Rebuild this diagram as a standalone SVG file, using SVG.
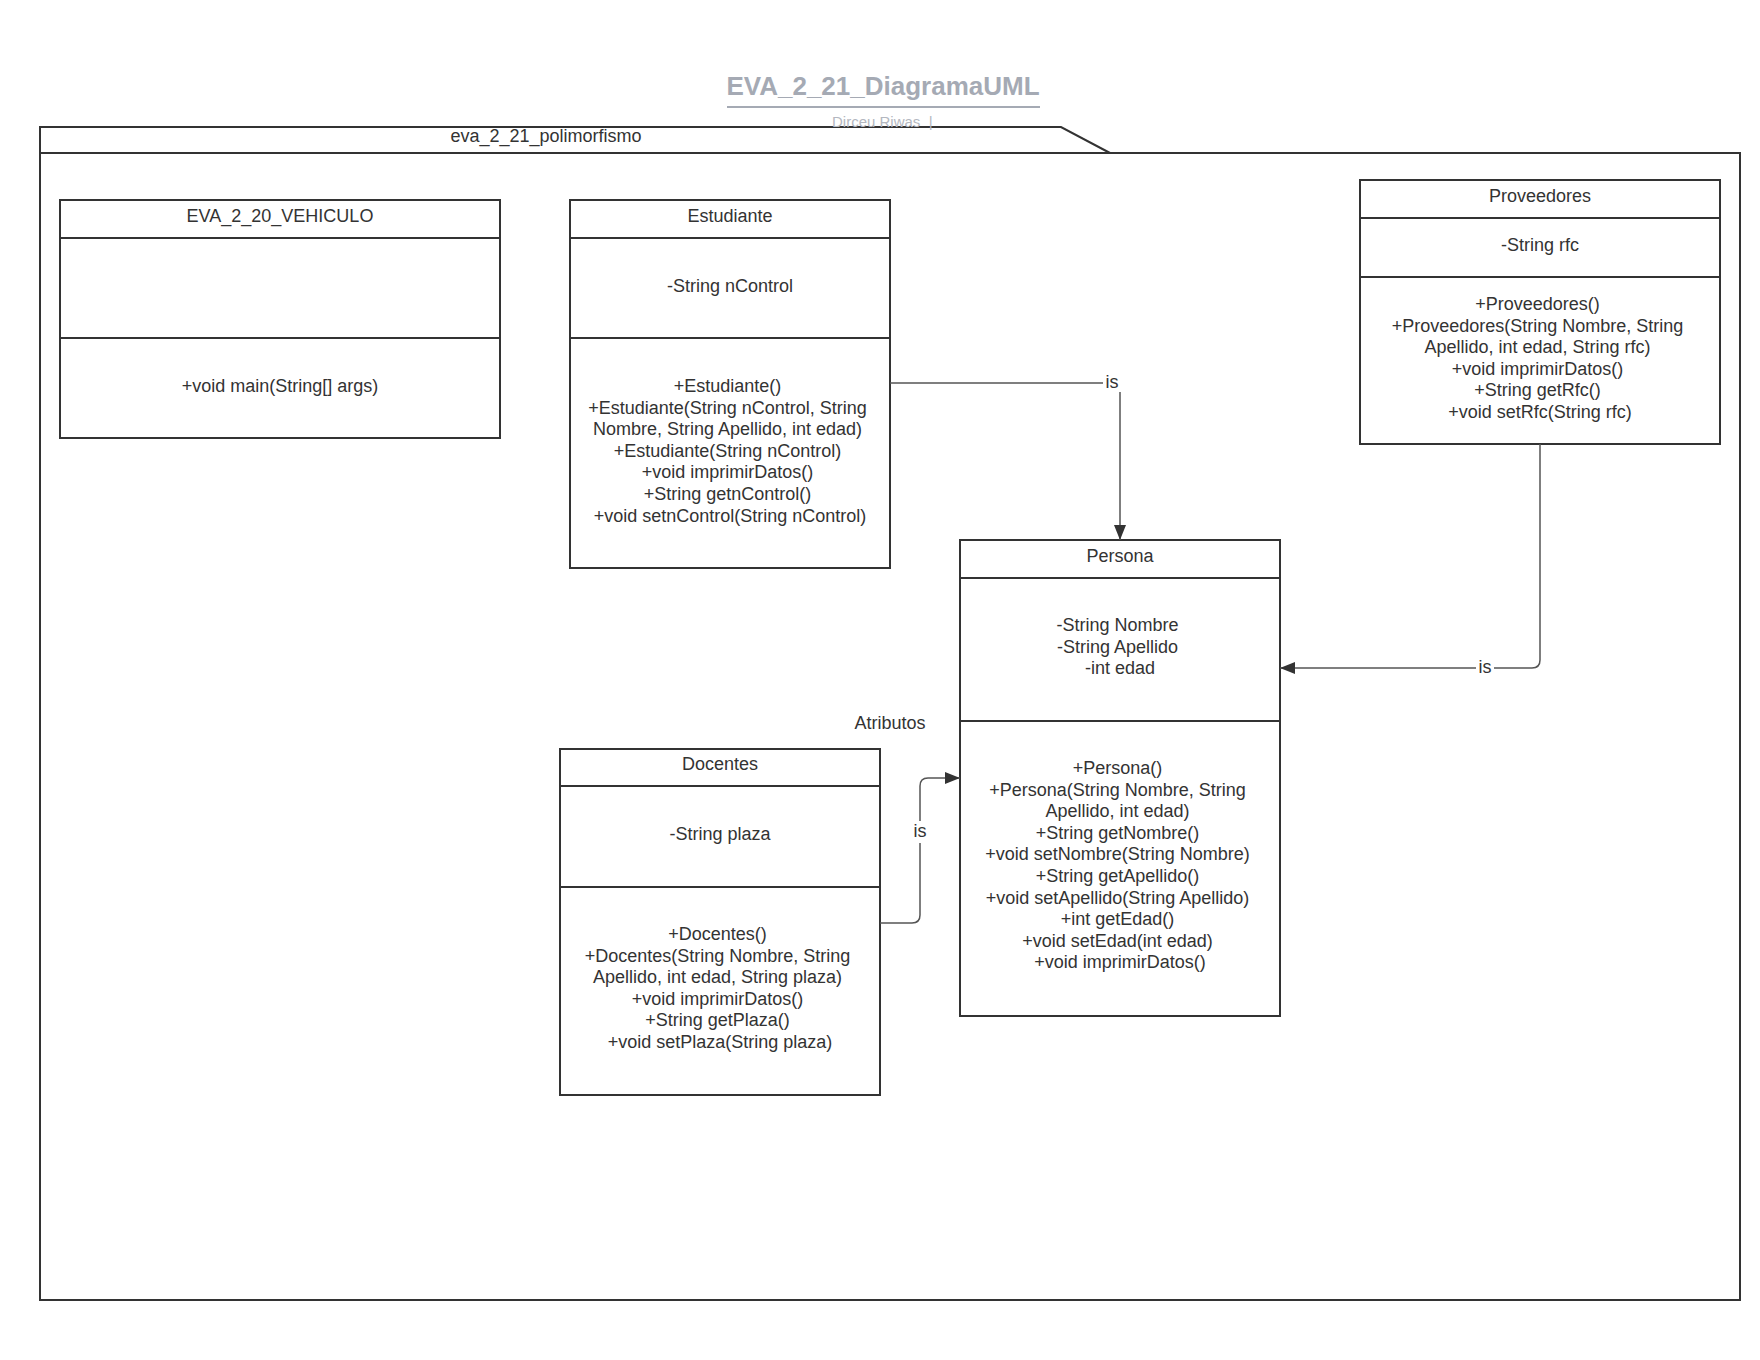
<svg xmlns="http://www.w3.org/2000/svg" width="1760" height="1360" viewBox="0 0 1760 1360">
  <style>
    .box { fill: #ffffff; stroke: #333333; stroke-width: 2; }
    .sep { stroke: #333333; stroke-width: 2; fill: none; }
    .txt { font-family: "Liberation Sans", Arial, sans-serif; font-size: 18px; fill: #333333; text-anchor: middle; }
    .edge { fill: none; stroke: #555555; stroke-width: 1.5; }
    .lbl { font-family: "Liberation Sans", Arial, sans-serif; font-size: 18px; fill: #333333; text-anchor: middle; }
  </style>
  <defs>
    <marker id="arrow" markerUnits="userSpaceOnUse" markerWidth="16" markerHeight="12" refX="15" refY="6" orient="auto">
      <path d="M0,0 L15,6 L0,12 z" fill="#333333"/>
    </marker>
  </defs>

  <rect width="1760" height="1360" fill="#ffffff"/>

  <!-- document title -->
  <g id="title">
    <text x="883" y="95" text-anchor="middle" font-family="Liberation Sans, Arial, sans-serif" font-size="26" font-weight="bold" fill="#a5aab4">EVA_2_21_DiagramaUML</text>
    <line x1="727" y1="107" x2="1040" y2="107" stroke="#a5aab4" stroke-width="2"/>
  </g>

  <!-- package frame -->
  <g id="package">
    <path d="M40,153 V127 H1061 L1110,153 Z" class="box"/>
    <rect x="40" y="153" width="1700" height="1147" class="box"/>
    <text x="546" y="142" class="txt">eva_2_21_polimorfismo</text>
  </g>

  <text x="832" y="127" font-family="Liberation Sans, Arial, sans-serif" font-size="15" fill="#b3b7c0" style="white-space:pre">Dirceu Riwas  |</text>

  <!-- EVA_2_20_VEHICULO -->
  <g id="vehiculo">
    <rect x="60" y="200" width="440" height="238" class="box"/>
    <line x1="60" y1="238" x2="500" y2="238" class="sep"/>
    <line x1="60" y1="338" x2="500" y2="338" class="sep"/>
    <text x="280" y="222" class="txt">EVA_2_20_VEHICULO</text>
    <text x="280" y="392" class="txt">+void main(String[] args)</text>
  </g>

  <!-- Estudiante -->
  <g id="estudiante">
    <rect x="570" y="200" width="320" height="368" class="box"/>
    <line x1="570" y1="238" x2="890" y2="238" class="sep"/>
    <line x1="570" y1="338" x2="890" y2="338" class="sep"/>
    <text x="730" y="222" class="txt">Estudiante</text>
    <text x="730" y="292" class="txt">-String nControl</text>
    <text x="730" y="392" class="txt">
      <tspan x="730">+Estudiante()</tspan>
      <tspan x="730" dy="21.6">+Estudiante(String nControl, String</tspan>
      <tspan x="730" dy="21.6">Nombre, String Apellido, int edad)</tspan>
      <tspan x="730" dy="21.6">+Estudiante(String nControl)</tspan>
      <tspan x="730" dy="21.6">+void imprimirDatos()</tspan>
      <tspan x="730" dy="21.6">+String getnControl()</tspan>
      <tspan x="730" dy="21.6">+void setnControl(String nControl)</tspan>
    </text>
  </g>

  <!-- Proveedores -->
  <g id="proveedores">
    <rect x="1360" y="180" width="360" height="264" class="box"/>
    <line x1="1360" y1="218" x2="1720" y2="218" class="sep"/>
    <line x1="1360" y1="277" x2="1720" y2="277" class="sep"/>
    <text x="1540" y="202" class="txt">Proveedores</text>
    <text x="1540" y="251" class="txt">-String rfc</text>
    <text x="1540" y="310" class="txt">
      <tspan x="1540">+Proveedores()</tspan>
      <tspan x="1540" dy="21.6">+Proveedores(String Nombre, String</tspan>
      <tspan x="1540" dy="21.6">Apellido, int edad, String rfc)</tspan>
      <tspan x="1540" dy="21.6">+void imprimirDatos()</tspan>
      <tspan x="1540" dy="21.6">+String getRfc()</tspan>
      <tspan x="1540" dy="21.6">+void setRfc(String rfc)</tspan>
    </text>
  </g>

  <!-- Persona -->
  <g id="persona">
    <rect x="960" y="540" width="320" height="476" class="box"/>
    <line x1="960" y1="578" x2="1280" y2="578" class="sep"/>
    <line x1="960" y1="721" x2="1280" y2="721" class="sep"/>
    <text x="1120" y="562" class="txt">Persona</text>
    <text x="1120" y="631" class="txt">
      <tspan x="1120">-String Nombre</tspan>
      <tspan x="1120" dy="21.6">-String Apellido</tspan>
      <tspan x="1120" dy="21.6">-int edad</tspan>
    </text>
    <text x="1120" y="774" class="txt">
      <tspan x="1120">+Persona()</tspan>
      <tspan x="1120" dy="21.6">+Persona(String Nombre, String</tspan>
      <tspan x="1120" dy="21.6">Apellido, int edad)</tspan>
      <tspan x="1120" dy="21.6">+String getNombre()</tspan>
      <tspan x="1120" dy="21.6">+void setNombre(String Nombre)</tspan>
      <tspan x="1120" dy="21.6">+String getApellido()</tspan>
      <tspan x="1120" dy="21.6">+void setApellido(String Apellido)</tspan>
      <tspan x="1120" dy="21.6">+int getEdad()</tspan>
      <tspan x="1120" dy="21.6">+void setEdad(int edad)</tspan>
      <tspan x="1120" dy="21.6">+void imprimirDatos()</tspan>
    </text>
  </g>

  <!-- Docentes -->
  <g id="docentes">
    <rect x="560" y="749" width="320" height="346" class="box"/>
    <line x1="560" y1="786" x2="880" y2="786" class="sep"/>
    <line x1="560" y1="887" x2="880" y2="887" class="sep"/>
    <text x="720" y="770" class="txt">Docentes</text>
    <text x="720" y="840" class="txt">-String plaza</text>
    <text x="720" y="940" class="txt">
      <tspan x="720">+Docentes()</tspan>
      <tspan x="720" dy="21.6">+Docentes(String Nombre, String</tspan>
      <tspan x="720" dy="21.6">Apellido, int edad, String plaza)</tspan>
      <tspan x="720" dy="21.6">+void imprimirDatos()</tspan>
      <tspan x="720" dy="21.6">+String getPlaza()</tspan>
      <tspan x="720" dy="21.6">+void setPlaza(String plaza)</tspan>
    </text>
  </g>

  <!-- free text -->
  <g id="atributos">
    <text x="890" y="729" class="txt">Atributos</text>
  </g>

  <!-- generalisation connectors -->
  <g id="connectors">
    <path d="M890,383 H1112 Q1120,383 1120,391 V540" class="edge" marker-end="url(#arrow)"/>
    <rect x="1103" y="370" width="18" height="22" fill="#ffffff"/>
    <text x="1112" y="388" class="lbl">is</text>

    <path d="M1540,444 V660 Q1540,668 1532,668 H1280" class="edge" marker-end="url(#arrow)"/>
    <rect x="1476" y="657" width="18" height="22" fill="#ffffff"/>
    <text x="1485" y="673" class="lbl">is</text>

    <path d="M880,923 H912 Q920,923 920,915 V786 Q920,778 928,778 H960" class="edge" marker-end="url(#arrow)"/>
    <rect x="911" y="821" width="18" height="22" fill="#ffffff"/>
    <text x="920" y="837" class="lbl">is</text>
  </g>
</svg>
